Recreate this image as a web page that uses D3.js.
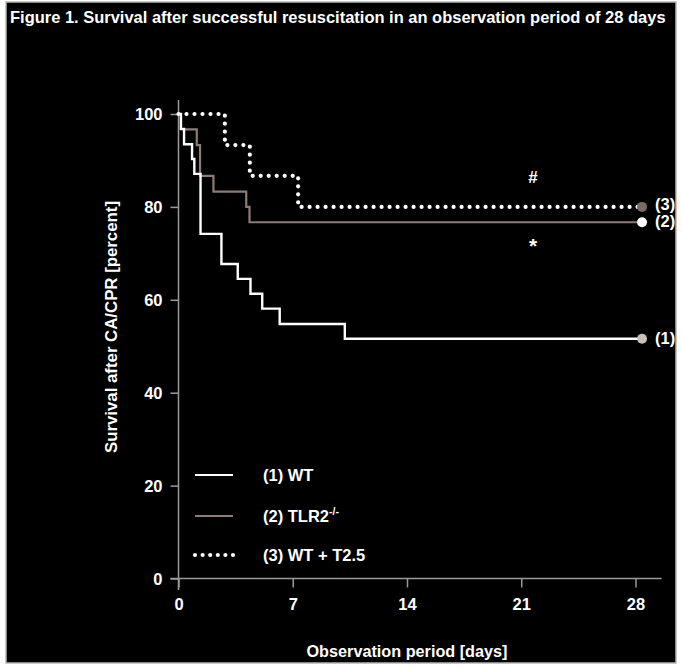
<!DOCTYPE html>
<html><head><meta charset="utf-8">
<script src="https://cdn.jsdelivr.net/npm/d3@7"></script>
<style>body{margin:0;background:#fff}svg{display:block}text{font-family:"Liberation Sans",Arial,sans-serif;font-weight:bold;fill:#fff}</style>
</head><body>
<script>
const titleText = "Figure 1. Survival after successful resuscitation in an observation period of 28 days";
const xTicks = [0, 7, 14, 21, 28];
const yTicks = [0, 20, 40, 60, 80, 100];
const wtTimes = [0, 0.15, 0.34, 0.83, 0.97, 1.35, 2.63, 3.63, 4.41, 5.13, 6.2, 10.19, 28.4];
const wtSurv  = [100, 96.8, 93.5, 90.3, 87.1, 74.2, 67.7, 64.5, 61.3, 58.1, 54.8, 51.6, 51.6];
const tlrTimes = [0, 0.15, 1.12, 1.32, 2.14, 4.15, 4.35, 28.4];
const tlrSurv  = [100, 96.7, 93.3, 86.7, 83.3, 80, 76.7, 76.7];
const t25Times = [0, 2.84, 4.37, 7.33, 28.4];
const t25Surv  = [100, 93.3, 86.7, 80, 80];
const seriesNames = ["(1) WT", "(2) TLR2", "(3) WT + T2.5"];
const endLabels = ["(1)", "(2)", "(3)"];

const W = 682, H = 670;
const svg = d3.select("body").append("svg").attr("width", W).attr("height", H);
svg.append("rect").attr("x", 6).attr("y", 2).attr("width", 670).attr("height", 661)
  .attr("fill", "#000").attr("stroke", "#b5b5b5").attr("stroke-width", 1.5);

// title: condensed by a horizontal scale so that its box fits the frame
const tg = svg.append("g");
const tt = tg.append("text").attr("x", 0).attr("y", 0).attr("font-size", 17).text(titleText);
const natural = tt.node().getComputedTextLength();
const sx = Math.min(1, 656 / natural);
tg.attr("transform", `translate(10,23) scale(${sx},1)`);

const x = d3.scaleLinear().domain([0, 28]).range([178.5, 635.5]);
const y = d3.scaleLinear().domain([0, 100]).range([578.5, 114]);
const axisColor = "#9a9a9a";

// axis lines (extended past domain like the reference)
svg.append("line").attr("x1", x(0)).attr("x2", x(0)).attr("y1", y(103)).attr("y2", y(-2.5))
  .attr("stroke", axisColor).attr("stroke-width", 1.5);
svg.append("line").attr("x1", x(-0.5)).attr("x2", x(29.6)).attr("y1", y(0)).attr("y2", y(0))
  .attr("stroke", axisColor).attr("stroke-width", 1.5);

const gy = svg.append("g").attr("transform", `translate(${x(0)},0)`)
  .call(d3.axisLeft(y).tickValues(yTicks).tickSize(8).tickPadding(8));
const gx = svg.append("g").attr("transform", `translate(0,${y(0)})`)
  .call(d3.axisBottom(x).tickValues(xTicks).tickSize(9).tickPadding(11));
[gy, gx].forEach(g => {
  g.select(".domain").remove();
  g.selectAll("line").attr("stroke", axisColor).attr("stroke-width", 1.5);
  g.selectAll("text").attr("fill", "#fff").attr("font-size", 16.5)
    .attr("font-family", "Liberation Sans, Arial, sans-serif").attr("font-weight", "bold");
});
gy.selectAll("text").attr("dy", "0.35em");

svg.append("text").attr("transform", `translate(117,327) rotate(-90)`).attr("text-anchor", "middle")
  .attr("font-size", 17).attr("textLength", 252).attr("lengthAdjust", "spacingAndGlyphs")
  .text("Survival after CA/CPR [percent]");
svg.append("text").attr("x", 407).attr("y", 657).attr("text-anchor", "middle")
  .attr("font-size", 17).attr("textLength", 201).attr("lengthAdjust", "spacingAndGlyphs")
  .text("Observation period [days]");

const line = d3.line().x(d => x(d[0])).y(d => y(d[1])).curve(d3.curveStepAfter);
const zipS = (t, s) => t.map((v, i) => [v, s[i]]);
const wt = zipS(wtTimes, wtSurv), tlr = zipS(tlrTimes, tlrSurv), t25 = zipS(t25Times, t25Surv);

const brown = "#8d7b75";
svg.append("path").datum(tlr).attr("d", line).attr("fill", "none").attr("stroke", brown).attr("stroke-width", 2.2);
svg.append("path").datum(wt).attr("d", line).attr("fill", "none").attr("stroke", "#fff").attr("stroke-width", 2.4);
svg.append("path").datum(t25).attr("d", line).attr("fill", "none").attr("stroke", "#fff")
  .attr("stroke-width", 4.2).attr("stroke-dasharray", "0,8").attr("stroke-linecap", "round");

// end markers
const ends = [
  {d: wt[wt.length - 1], fill: "#cbbfb9", lab: endLabels[0]},
  {d: tlr[tlr.length - 1], fill: "#ffffff", lab: endLabels[1]},
  {d: t25[t25.length - 1], fill: "#7c6a64", lab: endLabels[2]}
];
ends.forEach(e => {
  svg.append("circle").attr("cx", x(e.d[0])).attr("cy", y(e.d[1])).attr("r", 5).attr("fill", e.fill);
  svg.append("text").attr("x", x(e.d[0]) + 13).attr("y", y(e.d[1]) + 5 - (e.lab === "(3)" ? 2 : 0))
    .attr("font-size", 16.5).text(e.lab);
});

svg.append("text").attr("x", 533).attr("y", 183).attr("text-anchor", "middle").attr("font-size", 17).text("#");
svg.append("text").attr("x", 533).attr("y", 253).attr("text-anchor", "middle").attr("font-size", 21).text("*");

// legend
const legY = [475, 516, 555];
const legStyles = [
  {stroke: "#fff", w: 2.2, dash: null},
  {stroke: brown, w: 2.2, dash: null},
  {stroke: "#fff", w: 4.2, dash: "0,7.6"}
];
legY.forEach((ly, i) => {
  const s = legStyles[i];
  const l = svg.append("line").attr("x1", 195).attr("x2", 233).attr("y1", ly).attr("y2", ly)
    .attr("stroke", s.stroke).attr("stroke-width", s.w);
  if (s.dash) l.attr("stroke-dasharray", s.dash).attr("stroke-linecap", "round");
  const t = svg.append("text").attr("x", 263).attr("y", ly + 5.5).attr("font-size", 16.5).text(seriesNames[i]);
  if (i === 1) t.append("tspan").attr("font-size", 10.5).attr("dy", -7).text("-/-");
});
</script>
</body></html>
